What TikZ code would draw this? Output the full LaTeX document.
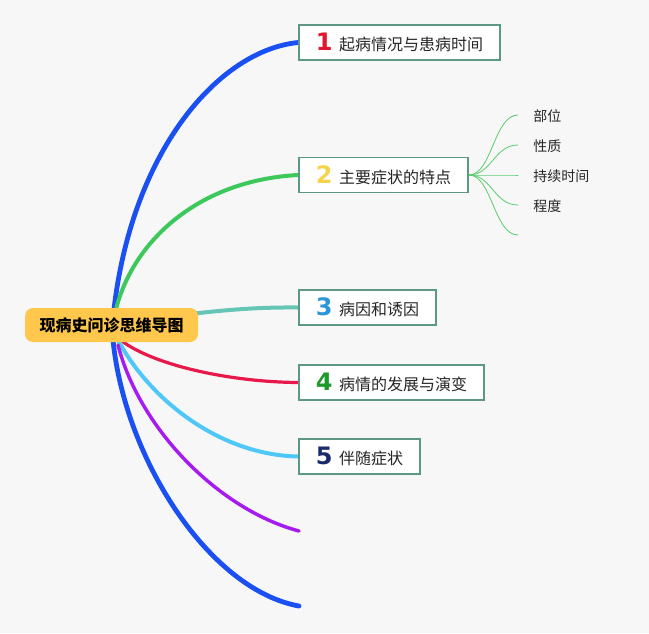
\documentclass[tikz,border=0pt]{standalone}
\usepackage{fontspec}
\setmainfont{Noto Sans CJK SC}
\newfontfamily\numfont{DejaVu Sans}[BoldFont={DejaVu Sans Bold}]
\pgfdeclarelayer{bgl}
\pgfdeclarelayer{backl}
\pgfsetlayers{bgl,backl,main}
\definecolor{bgc}{HTML}{F7F7F7}
\definecolor{boxline}{HTML}{5B9985}
\definecolor{hubfill}{HTML}{FFC84D}
\definecolor{cblue}{HTML}{1A4FF2}
\definecolor{cgreen}{HTML}{3CC85A}
\definecolor{cteal}{HTML}{66C6B6}
\definecolor{cred}{HTML}{E8184A}
\definecolor{clblue}{HTML}{4FC8F8}
\definecolor{cpurple}{HTML}{A61CF0}
\definecolor{cthin}{HTML}{5ACC6C}
\definecolor{n1}{HTML}{E0182D}
\definecolor{n2}{HTML}{F5D44C}
\definecolor{n3}{HTML}{2A95D8}
\definecolor{n4}{HTML}{1D9A2A}
\definecolor{n5}{HTML}{1B2A6B}
\tikzset{
  topic/.style={draw=boxline, line width=1.2pt, fill=white, minimum height=26.25pt, inner sep=0pt, font=\fontsize{12}{14}\selectfont, text=black!85},
  hub/.style={fill=hubfill, rounded corners=6pt, minimum width=129.75pt, minimum height=25.5pt, inner sep=0pt, font=\fontsize{12}{14}\selectfont\bfseries},
  leaf/.style={anchor=west, inner sep=0pt, font=\fontsize{10.5}{12}\selectfont, text=black!85},
  branch/.style={line cap=round},
  thin/.style={draw=cthin, line width=0.6pt}
}
\newcommand{\nm}[2]{{\numfont\bfseries\fontsize{18}{18}\selectfont\color{#1}#2}\hspace{5pt}}
\begin{document}
\begin{tikzpicture}[x=0.75pt,y=-0.75pt]
\begin{pgfonlayer}{bgl}
\fill[bgc] (0,0) rectangle (649,633);
\end{pgfonlayer}
\useasboundingbox (0,0) rectangle (649,633);
\node[hub] (hubn) at (111.5,325) {现病史问诊思维导图};
\coordinate (hc) at (115,325);
\node[topic, minimum width=150.75pt] (b1) at (399.5,42.5) {\nm{n1}{1}起病情况与患病时间};
\node[topic, minimum width=126.75pt] (b2) at (383.5,175) {\nm{n2}{2}主要症状的特点};
\node[topic, minimum width=102.75pt] (b3) at (367.5,307.5) {\nm{n3}{3}病因和诱因};
\node[topic, minimum width=138.75pt] (b4) at (391.5,382.5) {\nm{n4}{4}病情的发展与演变};
\node[topic, minimum width=90.75pt] (b5) at (359.5,456.5) {\nm{n5}{5}伴随症状};
\coordinate (e6) at (299,531);
\coordinate (e7) at (299,606);
\coordinate (l1) at (518,115);
\coordinate (l2) at (518,145);
\coordinate (l3) at (518,175);
\coordinate (l4) at (518,205);
\coordinate (l5) at (518,235);
\node[leaf] (t1) at (533,116) {部位};
\node[leaf] (t2) at (533,146) {性质};
\node[leaf] (t3) at (533,176) {持续时间};
\node[leaf] (t4) at (533,206) {程度};
\begin{pgfonlayer}{backl}
\draw[branch, cblue, line width=3.6pt] ([shift={(-2,-7)}]hc) .. controls (130,150) and (220,50) .. (b1.west);
\draw[branch, cgreen, line width=3pt] ([shift={(0,-12)}]hc) .. controls (132,240) and (200,180) .. (b2.west);
\draw[branch, cteal, line width=3pt] (hc) .. controls (200,311) and (250,307) .. (b3.west);
\draw[branch, cred, line width=2.4pt] ([shift={(3,13)}]hc) .. controls (150,365) and (230,382) .. (b4.west);
\draw[branch, clblue, line width=3pt] ([shift={(3,15)}]hc) .. controls (150,400) and (220,455) .. (b5.west);
\draw[branch, cpurple, line width=2.6pt] ([shift={(3,20)}]hc) .. controls (140,430) and (220,510) .. (e6);
\draw[branch, cblue, line width=3.6pt] ([shift={(-2,15)}]hc) .. controls (125,460) and (210,590) .. (e7);
\end{pgfonlayer}
\foreach \t in {l1,l2,l3,l4,l5}{
  \draw[thin] (b2.east) .. controls (492,175) and (494,0|-\t) .. (\t);
}
\end{tikzpicture}
\end{document}
